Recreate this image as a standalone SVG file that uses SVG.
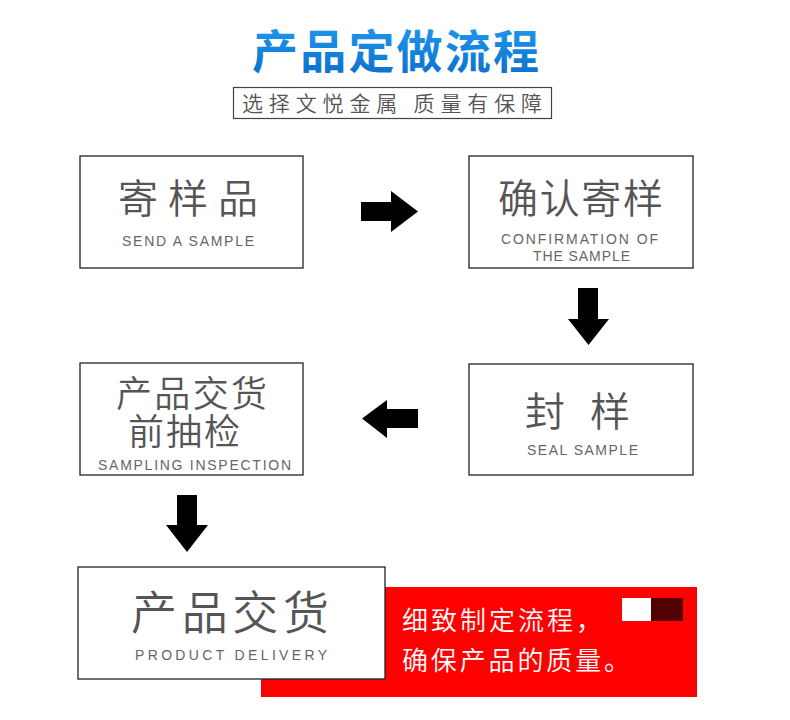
<svg xmlns="http://www.w3.org/2000/svg" width="790" height="720" viewBox="0 0 790 720">
<defs>
<linearGradient id="tg" x1="0" y1="0" x2="0" y2="1">
<stop offset="0" stop-color="#22a0f0"/>
<stop offset="1" stop-color="#0a6ccc"/>
</linearGradient>
<style>
.box{fill:#fff;stroke:#222;stroke-width:1.3}
.cn{font-family:"Noto Sans CJK SC","Noto Sans",sans-serif;fill:#555;font-weight:350}
.en{font-family:"Liberation Sans","DejaVu Sans",sans-serif;fill:#666;font-size:14px}
.wt{font-family:"Noto Sans CJK SC",sans-serif;fill:#fff;font-size:26px;font-weight:350}
.arr{fill:#000}
</style>
</defs>
<rect width="790" height="720" fill="#fff"/>
<g id="title">
<text x="252" y="68" font-family="'Noto Sans CJK SC',sans-serif" font-weight="bold" font-size="46" fill="url(#tg)" textLength="287" lengthAdjust="spacing">产品定做流程</text>
</g>
<g id="subtitle">
<rect x="233.5" y="87.5" width="318" height="31" fill="#fff" stroke="#444" stroke-width="1.2"/>
<text class="cn" x="242" y="111" font-size="21" textLength="300" lengthAdjust="spacing">选择文悦金属 质量有保障</text>
</g>
<g id="red-panel">
<rect x="261" y="587" width="436" height="110" fill="#ff0000"/>
<rect x="622" y="598" width="29" height="23" fill="#fff"/>
<rect x="651" y="598" width="32" height="23" fill="#520000"/>
<text class="wt"><tspan x="402" y="630" textLength="200" lengthAdjust="spacing">细致制定流程，</tspan><tspan x="402" y="670" textLength="228" lengthAdjust="spacing">确保产品的质量。</tspan></text>
</g>
<g id="node-send">
<rect class="box" x="80" y="156" width="223" height="112"/>
<text class="cn" x="118" y="213" font-size="40" textLength="140" lengthAdjust="spacing">寄样品</text>
<text class="en" x="122" y="246" textLength="132" lengthAdjust="spacing">SEND A SAMPLE</text>
</g>
<g id="node-confirm">
<rect class="box" x="469" y="156" width="224" height="112"/>
<text class="cn" x="498" y="213" font-size="40" textLength="165" lengthAdjust="spacing">确认寄样</text>
<text class="en"><tspan x="501" y="244" textLength="157" lengthAdjust="spacing">CONFIRMATION OF</tspan><tspan x="533" y="261" textLength="97" lengthAdjust="spacing">THE SAMPLE</tspan></text>
</g>
<g id="node-seal">
<rect class="box" x="469" y="364" width="224" height="111"/>
<text class="cn" x="525" y="426" font-size="40" textLength="105" lengthAdjust="spacing">封 样</text>
<text class="en" x="527" y="455" textLength="111" lengthAdjust="spacing">SEAL SAMPLE</text>
</g>
<g id="node-inspect">
<rect class="box" x="80" y="363" width="223" height="112"/>
<text class="cn" font-size="36"><tspan x="116" y="407" textLength="151" lengthAdjust="spacing">产品交货</tspan><tspan x="128" y="445" textLength="112" lengthAdjust="spacing">前抽检</tspan></text>
<text class="en" x="98" y="470" textLength="193" lengthAdjust="spacing">SAMPLING INSPECTION</text>
</g>
<g id="node-deliver">
<rect class="box" x="78" y="567" width="307" height="112"/>
<text class="cn" x="131" y="629" font-size="46" textLength="198" lengthAdjust="spacing">产品交货</text>
<text class="en" x="135" y="660" textLength="192" lengthAdjust="spacing">PRODUCT DELIVERY</text>
</g>
<g id="connectors">
<polygon class="arr" points="361,202 391,202 391,191 418,211.5 391,232 391,221 361,221"/>
<polygon class="arr" points="578,288 598,288 598,319 609,319 588.5,345 568,319 578,319"/>
<polygon class="arr" points="418,409 387,409 387,400 362,418.5 387,438 387,428 418,428"/>
<polygon class="arr" points="177,495 197,495 197,525 208,525 187,552 166,525 177,525"/>
</g>
</svg>
